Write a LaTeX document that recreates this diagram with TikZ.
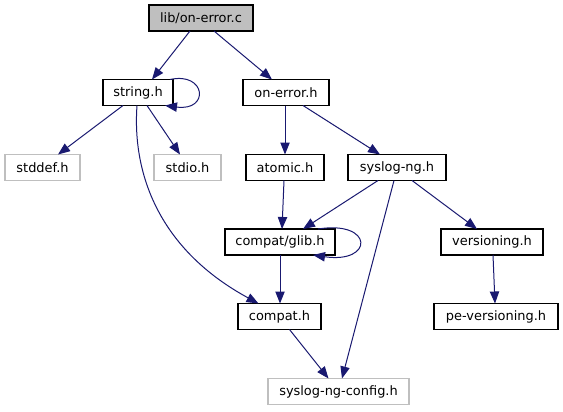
\documentclass[tikz,border=0pt]{standalone}
\usepackage{fontspec}
\setmainfont{DejaVu Sans}
\usetikzlibrary{arrows.meta,calc}
\definecolor{edgec}{HTML}{191970}
\definecolor{greyb}{HTML}{BFBFBF}
\tikzset{
  box/.style={draw=black, line width=0.8pt, rectangle, inner sep=0pt, outer sep=0pt,
    minimum height=19.5pt, font=\fontsize{9.7}{11}\selectfont, fill=white},
  extbox/.style={box, draw=greyb},
  rootbox/.style={box, fill=greyb},
  edge/.style={draw=edgec, line width=0.75pt, -{Triangle[length=9pt,width=7pt]}},
}
\begin{document}
\begin{tikzpicture}[x=0.75pt,y=-0.75pt]
\useasboundingbox (0,0) rectangle (563,411);
\node[rootbox, minimum width=78pt] (top) at (201,18) {lib/on-error.c};
\node[box, minimum width=52.5pt] (string) at (138,92.5) {string.h};
\node[box, minimum width=64.5pt] (onerr) at (286,92.5) {on-error.h};
\node[extbox, minimum width=56.25pt] (stddef) at (42.5,167.5) {stddef.h};
\node[extbox, minimum width=50.25pt] (stdio) at (187.5,167.5) {stdio.h};
\node[box, minimum width=58.5pt] (atomic) at (285,167.5) {atomic.h};
\node[box, minimum width=73.5pt] (syslog) at (397,167.5) {syslog-ng.h};
\node[box, minimum width=82.5pt] (glib) at (280,242) {compat/glib.h};
\node[box, minimum width=76.5pt] (vers) at (492,242) {versioning.h};
\node[box, minimum width=62.25pt] (compat) at (279.5,316.5) {compat.h};
\node[box, minimum width=93pt] (pevers) at (496,316.5) {pe-versioning.h};
\node[extbox, minimum width=105.75pt] (config) at (338.5,391.5) {syslog-ng-config.h};

\draw[edge] ($(top.south)+(-11,0)$) -- ($(string.north)+(14,0)$);
\draw[edge] ($(top.south)+(13,0)$) -- ($(onerr.north)+(-14,0)$);
\draw[edge] ($(string.north east)+(-3,0)$) .. controls ($(string.north east)+(33,-8)$) and ($(string.south east)+(37,6)$) .. ($(string.south east)+(-8,0)$);
\draw[edge] ($(string.south)+(-15,0)$) -- ($(stddef.north)+(15.5,0)$);
\draw[edge] ($(string.south)+(9,0)$) -- ($(stdio.north)+(-7.5,0)$);
\draw[edge] ($(string.south)+(-1,0)$) .. controls (132,175) and (160,250) .. ($(compat.north)+(-21,0)$);
\draw[edge] ($(onerr.south)+(-1,0)$) -- (atomic.north);
\draw[edge] ($(onerr.south)+(17,0)$) -- ($(syslog.north)+(-17,0)$);
\draw[edge] ($(atomic.south)+(-1,0)$) -- ($(glib.north)+(2,0)$);
\draw[edge] ($(syslog.south)+(-19,0)$) -- ($(glib.north)+(23,0)$);
\draw[edge] ($(syslog.south)+(-3,0)$) -- ($(config.north)+(3.5,0)$);
\draw[edge] ($(syslog.south)+(15,0)$) -- ($(vers.north)+(-15,0)$);
\draw[edge] ($(glib.north east)+(-17,0)$) .. controls ($(glib.north east)+(39,-9)$) and ($(glib.south east)+(39,9)$) .. ($(glib.south east)+(-22,0)$);
\draw[edge] (glib.south) -- ($(compat.north)+(0.5,0)$);
\draw[edge] ($(vers.south)+(1,0)$) -- ($(pevers.north)+(-1,0)$);
\draw[edge] ($(compat.south)+(10,0)$) -- ($(config.north)+(-10,0)$);
\end{tikzpicture}
\end{document}
